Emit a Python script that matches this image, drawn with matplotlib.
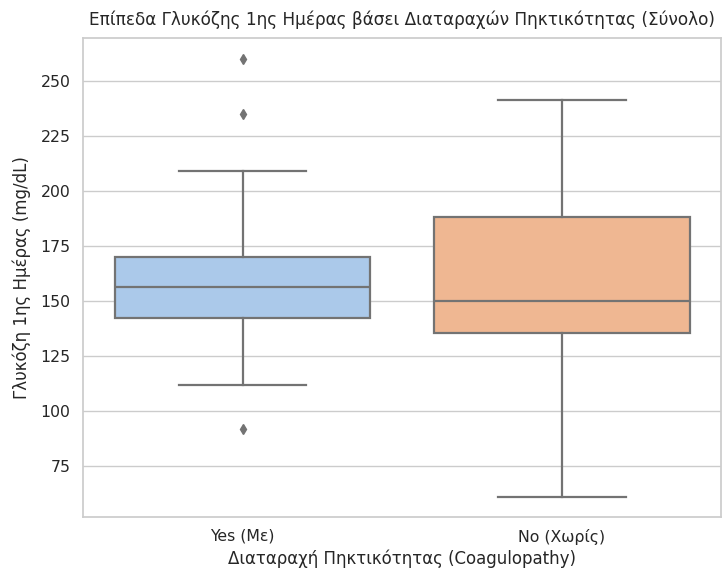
import matplotlib
matplotlib.use("Agg")
import matplotlib.pyplot as plt

categories = ["Yes (Με)", "No (Χωρίς)"]
whislo = [112, 61]
q1 = [142.3, 135.3]
medians = [156.2, 150]
q3 = [170, 188]
whishi = [209, 241.2]
fliers = [[92, 235, 260], []]

box_colors = ["#abc9ea", "#efb792"]
gray = "#737373"

stats = []
for i, name in enumerate(categories):
    stats.append(dict(label=name, whislo=whislo[i], q1=q1[i], med=medians[i],
                      q3=q3[i], whishi=whishi[i], fliers=fliers[i]))

fig = plt.figure(figsize=(7.23, 5.71), dpi=100)
ax = fig.add_axes([0.1148, 0.0946, 0.8831, 0.8389])

bp = ax.bxp(stats, positions=[0, 1], widths=0.8, patch_artist=True,
            boxprops=dict(edgecolor=gray, linewidth=1.6),
            medianprops=dict(color=gray, linewidth=1.6),
            whiskerprops=dict(color=gray, linewidth=1.6),
            capprops=dict(color=gray, linewidth=1.6),
            flierprops=dict(marker="d", markerfacecolor=gray, markeredgecolor=gray,
                            markersize=5, linestyle="none"),
            capwidths=0.4)
for patch, c in zip(bp["boxes"], box_colors):
    patch.set_facecolor(c)
    patch.set_zorder(2)

ax.set_xlim(-0.5, 1.5)
ax.set_ylim(51.8, 269.5)
ax.set_yticks([75, 100, 125, 150, 175, 200, 225, 250])
ax.set_xticks([0, 1])
ax.set_xticklabels(categories)
ax.yaxis.grid(True, color="#cccccc", linewidth=1)
ax.xaxis.grid(False)
ax.set_axisbelow(True)
for s in ax.spines.values():
    s.set_color("#cccccc")
    s.set_linewidth(1.25)
ax.tick_params(axis="both", length=0, labelsize=11.3, colors="#262626")
ax.tick_params(axis="y", pad=9)
ax.tick_params(axis="x", pad=8.5)

ax.set_title("Επίπεδα Γλυκόζης 1ης Ημέρας βάσει Διαταραχών Πηκτικότητας (Σύνολο)",
             fontsize=12.2, color="#262626", pad=9.5)
ax.set_xlabel("Διαταραχή Πηκτικότητας (Coagulopathy)", fontsize=12, color="#262626", labelpad=3.5)
ax.set_ylabel("Γλυκόζη 1ης Ημέρας (mg/dL)", fontsize=12, color="#262626", labelpad=6.5)

fig.savefig("out.png", dpi=100)
